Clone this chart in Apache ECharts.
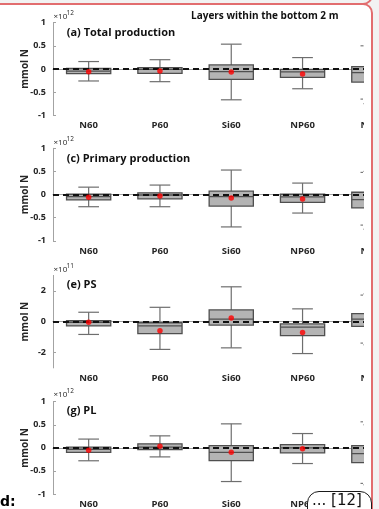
<!DOCTYPE html>
<html>
<head>
<meta charset="utf-8">
<script src="https://cdn.jsdelivr.net/npm/echarts@6/dist/echarts.min.js"></script>
<style>
  html, body { margin: 0; padding: 0; width: 379px; height: 509px; overflow: hidden; background: #f2f2f2; font-family: "Open Sans", sans-serif; }
  .frame-prev { position: absolute; left: -20px; top: -40px; width: 393px; height: 45px; box-sizing: border-box;
                border: 2px solid #e26d6f; border-radius: 10px; background: #f2f2f2; }
  .frame { position: absolute; left: -20px; top: 3px; width: 393px; height: 600px; box-sizing: border-box;
           border: 2px solid #e26d6f; border-radius: 10px; background: #ffffff; }
  .clip { position: absolute; left: 0; top: 0; width: 364px; height: 509px; overflow: hidden; }
  #chart { position: absolute; left: 0; top: 0; width: 440px; height: 509px; }
  .tag { position: absolute; left: 0; top: 493px; font: bold 14px "DejaVu Sans", sans-serif; color: #000; line-height: 16px; }
  .badge { position: absolute; left: 307px; top: 491px; width: 65px; height: 30px; box-sizing: border-box;
           border: 1.3px solid #1a1a1a; border-radius: 12px; background: #fff;
           font: 15px "DejaVu Sans", sans-serif; color: #111; line-height: 17px; padding-left: 4px; white-space: nowrap; }
</style>
</head>
<body>
<div class="frame-prev"></div>
<div class="frame"></div>
<div class="clip"><div id="chart"></div></div>
<div class="tag">d:</div>
<div class="badge">... [12]</div>
<script>
// Scenario labels along each x axis
const categories = ['N60', 'P60', 'Si60', 'NP60', 'NSi60'];

// Box statistics per scenario: [lower whisker, Q1, median, Q3, upper whisker]
// (a) Total production, x1e12 mmol N
const totalBoxes = [
  [-0.26, -0.10, -0.045, 0.01, 0.16],
  [-0.275, -0.094, -0.01, 0.03, 0.20],
  [-0.667, -0.225, -0.058, 0.087, 0.536],
  [-0.428, -0.181, -0.065, -0.01, 0.246],
  [-0.75, -0.283, -0.08, 0.05, 0.50]
];
const totalMeans = [-0.058, -0.043, -0.065, -0.109, -0.10];

// (c) Primary production, x1e12 mmol N
const primaryBoxes = [
  [-0.263, -0.117, -0.045, 0.007, 0.16],
  [-0.263, -0.095, -0.01, 0.037, 0.205],
  [-0.70, -0.249, -0.044, 0.073, 0.53],
  [-0.40, -0.168, -0.05, 0.007, 0.248],
  [-0.75, -0.29, -0.11, 0.05, 0.50]
];
const primaryMeans = [-0.058, -0.03, -0.073, -0.095, -0.12];

// (e) PS, x1e11 mmol N
const psBoxes = [
  [-0.83, -0.28, -0.04, 0.065, 0.61],
  [-1.80, -0.78, -0.27, -0.07, 0.93],
  [-1.70, -0.22, 0.17, 0.76, 2.26],
  [-2.07, -0.91, -0.35, -0.15, 0.83],
  [-1.50, -0.30, 0.17, 0.52, 1.80]
];
const psMeans = [-0.04, -0.59, 0.24, -0.70, 0.20];

// (g) PL, x1e12 mmol N
const plBoxes = [
  [-0.28, -0.10, -0.03, 0.014, 0.19],
  [-0.196, -0.036, 0.014, 0.087, 0.26],
  [-0.73, -0.275, -0.10, 0.05, 0.52],
  [-0.34, -0.109, 0.0, 0.072, 0.31],
  [-0.80, -0.32, -0.123, 0.05, 0.50]
];
const plMeans = [-0.05, 0.036, -0.094, -0.022, -0.10];

// Axis ticks
const unitTicks = [-1, -0.5, 0, 0.5, 1];
const psTicks = [-2, 0, 2];

const panelTitles = ['(a) Total production', '(c) Primary production', '(e) PS', '(g) PL'];
const panelExponents = ['12', '12', '11', '12'];
const headerText = 'Layers within the bottom 2 m';

// Panel layout
const panels = [
  { boxes: totalBoxes,   means: totalMeans,   ticks: unitTicks, range: [-1, 1], top: 22.7,  expY: 16.7,  titleY: 33 },
  { boxes: primaryBoxes, means: primaryMeans, ticks: unitTicks, range: [-1, 1], top: 148.3, expY: 142.5, titleY: 158.8 },
  { boxes: psBoxes,      means: psMeans,      ticks: psTicks,   range: [-3, 3], top: 275.4, expY: 269.7, titleY: 284.5 },
  { boxes: plBoxes,      means: plMeans,      ticks: unitTicks, range: [-1, 1], top: 401.7, expY: 394.5, titleY: 411 }
];

const AX = '#a3a3a3';
const TXT = '#262626';
const FONT = '"Open Sans", sans-serif';

function renderBox(params, api) {
  const i = api.value(0);
  const lo = api.coord([i, api.value(1)]);
  const q1 = api.coord([i, api.value(2)]);
  const md = api.coord([i, api.value(3)]);
  const q3 = api.coord([i, api.value(4)]);
  const hi = api.coord([i, api.value(5)]);
  const band = api.size([1, 0])[0];
  const bw = band * 0.62;
  const cw = band * 0.29;
  const x = lo[0];
  const wStyle = { stroke: '#6e6e6e', lineWidth: 1.2, fill: null };
  const bStyle = { stroke: '#4f4f4f', lineWidth: 1.3 };
  return {
    type: 'group',
    children: [
      { type: 'line', shape: { x1: x, y1: hi[1], x2: x, y2: q3[1] }, style: wStyle },
      { type: 'line', shape: { x1: x, y1: q1[1], x2: x, y2: lo[1] }, style: wStyle },
      { type: 'line', shape: { x1: x - cw / 2, y1: hi[1], x2: x + cw / 2, y2: hi[1] }, style: wStyle },
      { type: 'line', shape: { x1: x - cw / 2, y1: lo[1], x2: x + cw / 2, y2: lo[1] }, style: wStyle },
      { type: 'rect', shape: { x: x - bw / 2, y: q3[1], width: bw, height: q1[1] - q3[1] },
        style: Object.assign({ fill: '#b4b4b4' }, bStyle) },
      { type: 'line', shape: { x1: x - bw / 2, y1: md[1], x2: x + bw / 2, y2: md[1] },
        style: Object.assign({ fill: null }, bStyle) }
    ]
  };
}

const grid = [], xAxis = [], yAxis = [], series = [], graphic = [];

panels.forEach((p, k) => {
  grid.push({ left: 53, top: p.top, width: 356.5, height: 92.5 });
  xAxis.push({
    type: 'category', gridIndex: k, data: categories, boundaryGap: true,
    axisLine: { lineStyle: { color: AX, width: 1 } },
    axisTick: { inside: true, length: 3, alignWithLabel: true, lineStyle: { color: AX } },
    axisLabel: { fontSize: 9.5, fontWeight: 'bold', color: TXT, margin: 5, fontFamily: FONT },
    splitLine: { show: false }
  });
  yAxis.push({
    type: 'value', gridIndex: k, min: p.range[0], max: p.range[1],
    name: 'mmol N', nameLocation: 'middle', nameGap: 23, nameMoveOverlap: false,
    nameTextStyle: { fontSize: 10, fontWeight: 'bold', color: TXT, fontFamily: FONT },
    axisLine: { show: true, lineStyle: { color: AX, width: 1 } },
    axisTick: { show: true, inside: true, length: 3, customValues: p.ticks, lineStyle: { color: AX } },
    axisLabel: { fontSize: 9, fontWeight: 'bold', color: TXT, margin: 7, fontFamily: FONT, customValues: p.ticks },
    splitLine: { show: false }
  });
  series.push({
    type: 'custom', xAxisIndex: k, yAxisIndex: k, z: 2,
    renderItem: renderBox,
    encode: { x: 0, y: [1, 2, 3, 4, 5] },
    data: p.boxes.map((b, i) => [i].concat(b))
  });
  // zero reference line across the panel
  series.push({
    type: 'scatter', xAxisIndex: k, yAxisIndex: k, z: 3, data: [],
    markLine: {
      silent: true, symbol: 'none', label: { show: false },
      lineStyle: { color: '#111', width: 1.8, type: [6, 4] },
      data: [{ yAxis: 0 }]
    }
  });
  series.push({
    type: 'scatter', xAxisIndex: k, yAxisIndex: k, z: 5,
    symbol: 'circle', symbolSize: 5.5,
    itemStyle: { color: '#ff0000' },
    data: p.means.map((m, i) => [i, m])
  });

  graphic.push({ type: 'text', x: 53.5, y: p.expY, silent: true,
    style: { text: '×10', font: '8px ' + FONT, fill: TXT, verticalAlign: 'middle', textVerticalAlign: 'middle' } });
  graphic.push({ type: 'text', x: 66.6, y: p.expY - 3.2, silent: true,
    style: { text: panelExponents[k], font: '6.5px ' + FONT, fill: TXT, verticalAlign: 'middle', textVerticalAlign: 'middle' } });
  graphic.push({ type: 'text', x: 66.7, y: p.titleY, silent: true,
    style: { text: panelTitles[k], font: 'bold 11px ' + FONT, fill: '#111', verticalAlign: 'middle', textVerticalAlign: 'middle' } });
});

graphic.push({ type: 'text', x: 191, y: 16, silent: true,
  style: { text: headerText, font: 'bold 10px ' + FONT, fill: '#111', verticalAlign: 'middle', textVerticalAlign: 'middle' } });

// tick fragments of the neighbouring panel column at the clipped edge
[45.7, 99, 172.3, 225, 295, 343, 421.7, 483.3].forEach(y => {
  graphic.push({ type: 'rect', silent: true, shape: { x: 360.5, y: y - 0.5, width: 2.5, height: 1.2 }, style: { fill: '#7a7a7a' } });
});

const chart = echarts.init(document.getElementById('chart'), null, { renderer: 'canvas' });
chart.setOption({
  animation: false,
  backgroundColor: 'transparent',
  grid, xAxis, yAxis, series, graphic
});
</script>
</body>
</html>
